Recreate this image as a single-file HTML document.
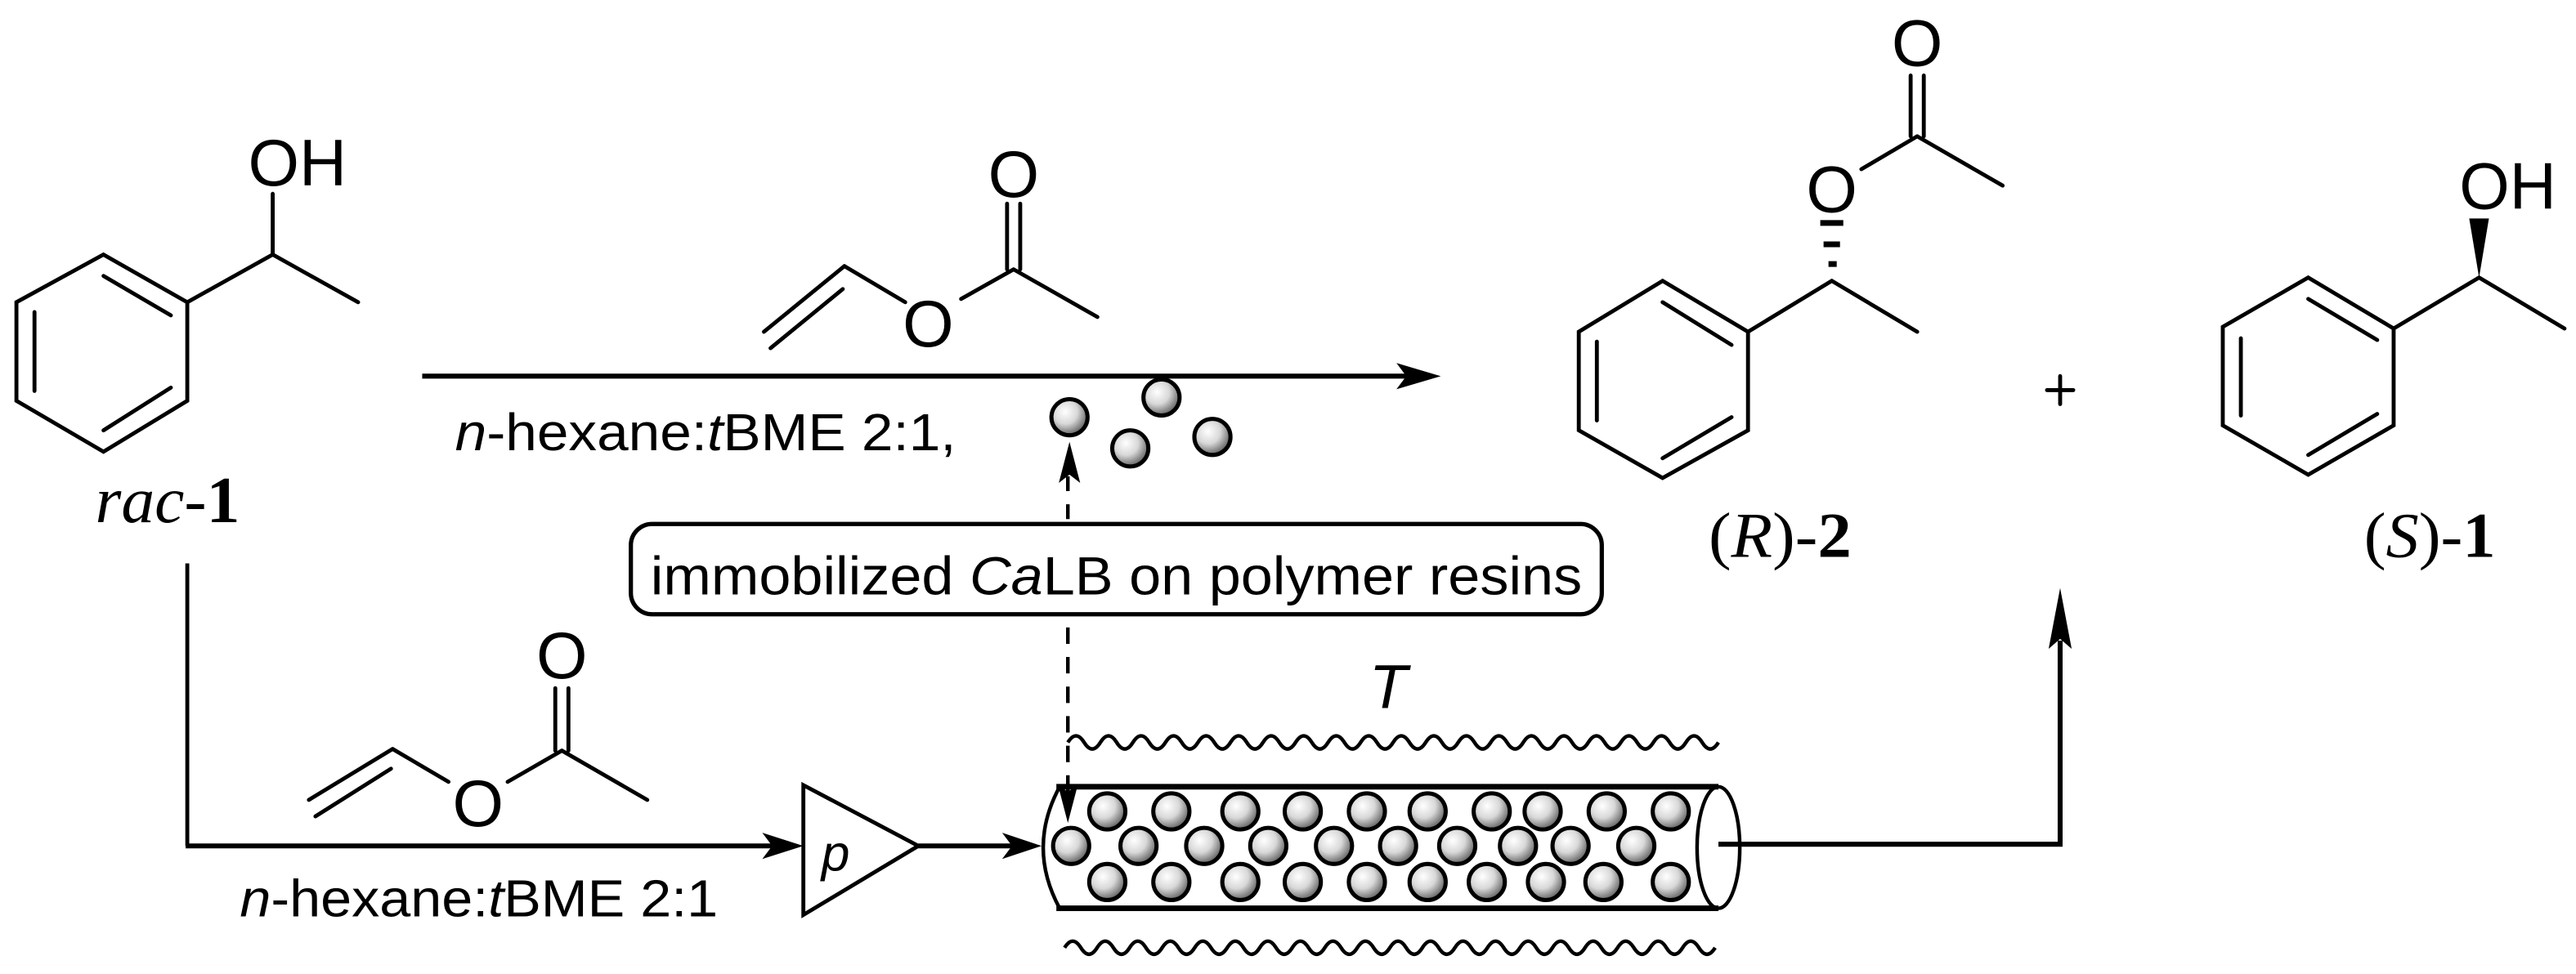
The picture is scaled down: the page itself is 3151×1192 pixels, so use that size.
<!DOCTYPE html>
<html><head><meta charset="utf-8"><style>
html,body{margin:0;padding:0;background:#fff;}
svg{display:block;}
text{font-family:"Liberation Sans",sans-serif;fill:#000;}
.serif{font-family:"Liberation Serif",serif;}
</style></head><body>
<svg width="3151" height="1192" viewBox="0 0 1568 593" preserveAspectRatio="none" xmlns="http://www.w3.org/2000/svg">
<defs>
<radialGradient id="bead" cx="0.38" cy="0.35" r="0.75">
<stop offset="0" stop-color="#ffffff"/>
<stop offset="0.45" stop-color="#d8d8d8"/>
<stop offset="0.85" stop-color="#6a6a6a"/>
<stop offset="1" stop-color="#333"/>
</radialGradient>
</defs>
<g fill="none" stroke="#000" stroke-width="2.4" stroke-linecap="round" stroke-linejoin="miter">
<!-- rac-1 -->
<polygon points="63,155 114,184 114,244 63,275 10,244 10,184"/>
<line x1="63" y1="168" x2="104" y2="192"/>
<line x1="104" y1="236" x2="63" y2="262"/>
<line x1="21" y1="190" x2="21" y2="238"/>
<polyline points="114,184 166,155 218,184"/>
<line x1="166" y1="155" x2="166" y2="118"/>
<!-- top vinyl acetate -->
<line x1="465" y1="202" x2="514" y2="162"/>
<line x1="469" y1="212" x2="513" y2="176"/>
<line x1="514" y1="162" x2="551" y2="184"/>
<line x1="585" y1="182" x2="617" y2="164"/>
<line x1="617" y1="164" x2="668" y2="193"/>
<line x1="613" y1="164" x2="613" y2="124"/>
<line x1="621" y1="164" x2="621" y2="124"/>
<!-- bottom vinyl acetate -->
<line x1="188" y1="487" x2="239" y2="456"/>
<line x1="192" y1="497" x2="238" y2="468"/>
<line x1="239" y1="456" x2="273" y2="476"/>
<line x1="309" y1="476" x2="342" y2="457"/>
<line x1="342" y1="457" x2="394" y2="487"/>
<line x1="338" y1="457" x2="338" y2="419"/>
<line x1="346" y1="457" x2="346" y2="419"/>
<!-- (R)-2 -->
<polygon points="1012,171 1064,202 1064,262 1012,291 961,262 961,202"/>
<line x1="1012" y1="184" x2="1054" y2="210"/>
<line x1="1054" y1="254" x2="1012" y2="279"/>
<line x1="972" y1="208" x2="972" y2="256"/>
<polyline points="1064,202 1115,171 1167,202"/>
<line x1="1133" y1="103" x2="1167" y2="83"/>
<line x1="1167" y1="83" x2="1219" y2="113"/>
<line x1="1163" y1="83" x2="1163" y2="46"/>
<line x1="1171" y1="83" x2="1171" y2="46"/>
<!-- (S)-1 -->
<polygon points="1405,169 1457,200 1457,259 1405,289 1353,259 1353,199"/>
<line x1="1405" y1="182" x2="1447" y2="207"/>
<line x1="1447" y1="252" x2="1405" y2="277"/>
<line x1="1364" y1="206" x2="1364" y2="253"/>
<polyline points="1457,200 1509,169 1561,200"/>
<!-- plus -->
<line x1="1254" y1="229" x2="1254" y2="246"/>
<line x1="1246" y1="237.5" x2="1262" y2="237.5"/>
</g>
<g fill="#000">
<rect x="1108" y="134" width="14" height="3.5"/>
<rect x="1110" y="147" width="10" height="3.5"/>
<rect x="1113" y="159" width="5" height="3.5"/>
<polygon points="1509,169 1503,133 1515,133"/>
</g>
<!-- atom labels -->
<text x="151" y="113" font-size="40" textLength="60" lengthAdjust="spacingAndGlyphs">OH</text>
<text x="617" y="120" font-size="40" text-anchor="middle">O</text>
<text x="565" y="211" font-size="40" text-anchor="middle">O</text>
<text x="342" y="413" font-size="40" text-anchor="middle">O</text>
<text x="291" y="503" font-size="40" text-anchor="middle">O</text>
<text x="1115" y="129" font-size="40" text-anchor="middle">O</text>
<text x="1167" y="40" font-size="40" text-anchor="middle">O</text>
<text x="1497" y="127" font-size="40" textLength="59" lengthAdjust="spacingAndGlyphs">OH</text>
<!-- compound labels -->
<text class="serif" x="58" y="318" font-size="40" textLength="88" lengthAdjust="spacingAndGlyphs"><tspan font-style="italic">rac</tspan>-<tspan font-weight="bold">1</tspan></text>
<text class="serif" x="1040" y="339" font-size="39" textLength="87" lengthAdjust="spacingAndGlyphs">(<tspan font-style="italic">R</tspan>)-<tspan font-weight="bold">2</tspan></text>
<text class="serif" x="1439" y="339" font-size="39" textLength="80" lengthAdjust="spacingAndGlyphs">(<tspan font-style="italic">S</tspan>)-<tspan font-weight="bold">1</tspan></text>
<!-- conditions -->
<text x="277" y="274" font-size="32" textLength="305" lengthAdjust="spacingAndGlyphs"><tspan font-style="italic">n</tspan>-hexane:<tspan font-style="italic">t</tspan>BME 2:1,</text>
<text x="146" y="558" font-size="32" textLength="291" lengthAdjust="spacingAndGlyphs"><tspan font-style="italic">n</tspan>-hexane:<tspan font-style="italic">t</tspan>BME 2:1</text>
<!-- top arrow -->
<line x1="257" y1="229" x2="860" y2="229" stroke="#000" stroke-width="3"/>
<polygon points="877,229 850,221 856,229 850,237" fill="#000"/>
<!-- box -->
<rect x="384" y="319" width="591" height="55" rx="13" fill="#fff" stroke="#000" stroke-width="2.6"/>
<text x="396" y="362" font-size="33" textLength="567" lengthAdjust="spacingAndGlyphs">immobilized <tspan font-style="italic">Ca</tspan>LB on polymer resins</text>
<!-- dashed arrow -->
<line x1="650" y1="290" x2="650" y2="318" stroke="#000" stroke-width="2.2" stroke-dasharray="9,8"/>
<line x1="650" y1="382" x2="650" y2="482" stroke="#000" stroke-width="2.2" stroke-dasharray="10,8"/>
<polygon points="651,269 644.5,294 651,289 657.5,294" fill="#000"/>
<!-- bottom flow -->
<line x1="114" y1="343" x2="114" y2="515" stroke="#000" stroke-width="2.4"/>
<line x1="113" y1="515" x2="475" y2="515" stroke="#000" stroke-width="3"/>
<polygon points="489,515 464,507 470,515 464,523" fill="#000"/>
<polygon points="489,478 559,515 489,557" fill="#fff" stroke="#000" stroke-width="2.4"/>
<text x="500" y="530" font-size="31" font-style="italic">p</text>
<line x1="559" y1="515" x2="620" y2="515" stroke="#000" stroke-width="3"/>
<polygon points="634,515 610,507 616,515 610,523" fill="#000"/>
<!-- T and heating waves -->
<text x="845" y="431" font-size="38" font-style="italic" text-anchor="middle">T</text>
<path id="wave" fill="none" stroke="#000" stroke-width="2.2" d="M650,452 q4.95,-8 9.9,0 t9.9,0 t9.9,0 t9.9,0 t9.9,0 t9.9,0 t9.9,0 t9.9,0 t9.9,0 t9.9,0 t9.9,0 t9.9,0 t9.9,0 t9.9,0 t9.9,0 t9.9,0 t9.9,0 t9.9,0 t9.9,0 t9.9,0 t9.9,0 t9.9,0 t9.9,0 t9.9,0 t9.9,0 t9.9,0 t9.9,0 t9.9,0 t9.9,0 t9.9,0 t9.9,0 t9.9,0 t9.9,0 t9.9,0 t9.9,0 t9.9,0 t9.9,0 t9.9,0 t9.9,0 t9.9,0"/>
<use href="#wave" transform="translate(-2,125)"/>
<!-- tube -->
<path d="M645,479 Q625,516 645,553" fill="none" stroke="#000" stroke-width="2.2"/>
<g stroke="#000" stroke-width="2.5" fill="url(#bead)">
<circle cx="674" cy="494" r="11"/><circle cx="713" cy="494" r="11"/><circle cx="755" cy="494" r="11"/><circle cx="793" cy="494" r="11"/><circle cx="832" cy="494" r="11"/><circle cx="869" cy="494" r="11"/><circle cx="908" cy="494" r="11"/><circle cx="939" cy="494" r="11"/><circle cx="978" cy="494" r="11"/><circle cx="1017" cy="494" r="11"/>
<circle cx="652" cy="515" r="11"/><circle cx="693" cy="515" r="11"/><circle cx="733" cy="515" r="11"/><circle cx="772" cy="515" r="11"/><circle cx="812" cy="515" r="11"/><circle cx="851" cy="515" r="11"/><circle cx="887" cy="515" r="11"/><circle cx="924" cy="515" r="11"/><circle cx="956" cy="515" r="11"/><circle cx="996" cy="515" r="11"/>
<circle cx="674" cy="537" r="11"/><circle cx="713" cy="537" r="11"/><circle cx="755" cy="537" r="11"/><circle cx="793" cy="537" r="11"/><circle cx="832" cy="537" r="11"/><circle cx="869" cy="537" r="11"/><circle cx="905" cy="537" r="11"/><circle cx="941" cy="537" r="11"/><circle cx="976" cy="537" r="11"/><circle cx="1017" cy="537" r="11"/>
<circle cx="651" cy="254" r="11"/><circle cx="707" cy="242" r="11"/><circle cx="688" cy="273" r="11"/><circle cx="738" cy="266" r="11"/>
</g>
<line x1="643" y1="479" x2="1046" y2="479" stroke="#000" stroke-width="3.4"/>
<line x1="643" y1="553" x2="1046" y2="553" stroke="#000" stroke-width="3.4"/>
<ellipse cx="1046" cy="516" rx="13" ry="37" fill="none" stroke="#000" stroke-width="2.2"/>
<polygon points="650,501 644,478 650,482 656,478" fill="#000"/>
<!-- output -->
<polyline points="1046,514 1254,514 1254,390" fill="none" stroke="#000" stroke-width="3"/>
<polygon points="1254,358 1247,395 1254,389 1261,395" fill="#000"/>
</svg>
</body></html>
